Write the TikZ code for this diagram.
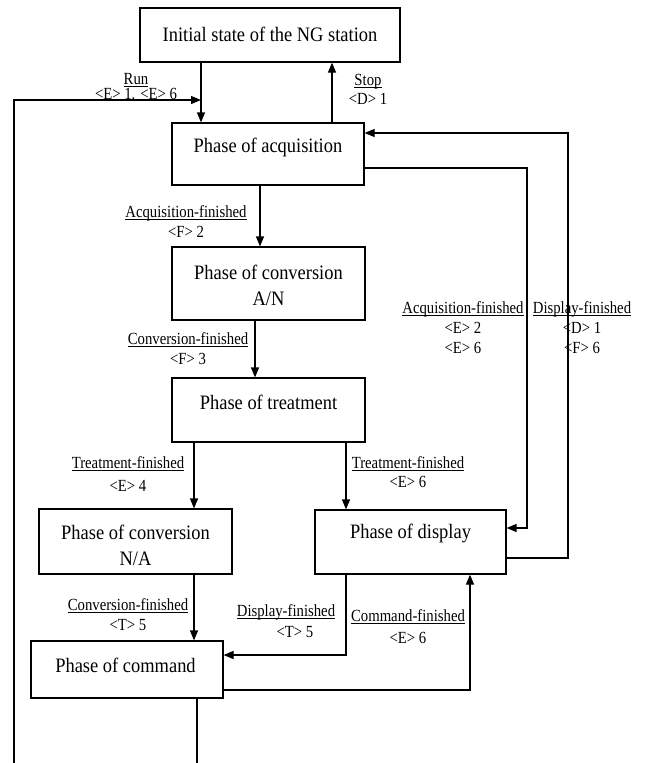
\documentclass[tikz,border=0pt]{standalone}
\usepackage{fontspec}
\setmainfont{Liberation Serif}
\newfontfamily\boxfont[FakeStretch=0.9]{Liberation Serif}
\newfontfamily\labfont[FakeStretch=0.867]{Liberation Serif}
\usetikzlibrary{arrows.meta,calc}
\newcommand\ulab[1]{\underline{\smash{#1}}}
\begin{document}
\begin{tikzpicture}[x=1pt,y=-1pt,
  box/.style={draw,line width=1.2pt,inner sep=0pt},
  boxtext/.style={font=\boxfont\fontsize{20.5}{26}\selectfont,align=center,inner sep=0pt},
  lab/.style={font=\labfont\fontsize{17}{20}\selectfont,align=center,inner sep=0pt},
  arr/.style={line width=1.2pt,-{Triangle[length=10pt,width=8pt]}},
  ln/.style={line width=1.2pt}]
\useasboundingbox (0,0) rectangle (645,763);
\clip (0,0) rectangle (645,763);

% boxes
\node[box,minimum width=260pt,minimum height=54pt] (init) at (270,35) {};
\node[boxtext] (initt) at (270,34) {Initial state of the NG station};
\node[box,minimum width=192pt,minimum height=62pt] (acq) at (268,154) {};
\node[boxtext] (acqt) at (268,147) {Phase of acquisition};
\node[box,minimum width=193pt,minimum height=73pt] (cAN) at (268.5,283.5) {};
\node[boxtext] (cANt) at (268.5,285) {Phase of conversion\\A/N};
\node[box,minimum width=193pt,minimum height=64pt] (treat) at (268.5,410) {};
\node[boxtext] (treatt) at (268.5,402) {Phase of treatment};
\node[box,minimum width=193pt,minimum height=65pt] (cNA) at (135.5,541.5) {};
\node[boxtext] (cNAt) at (135.5,545.5) {Phase of conversion\\N/A};
\node[box,minimum width=191pt,minimum height=64pt] (disp) at (410.5,542) {};
\node[boxtext] (dispt) at (410.5,533) {Phase of display};
\node[box,minimum width=192pt,minimum height=57pt] (cmd) at (127,669.5) {};
\node[boxtext] (cmdt) at (125.5,665) {Phase of command};

% helper coordinates
\coordinate (xA) at (201,0);
\coordinate (xS) at (332,0);
\coordinate (runL) at (14,100);
\coordinate (runE) at (201,100);
\coordinate (xCmd) at (197,0);
\coordinate (loopB) at (14,800);
\coordinate (yA1) at (0,168);
\coordinate (xIn) at (527,0);
\coordinate (yD1) at (0,528);
\coordinate (yD2) at (0,558);
\coordinate (xOut) at (568,0);
\coordinate (yA2) at (0,133);
\coordinate (x260) at (260,0);
\coordinate (x255) at (255,0);
\coordinate (x194) at (194,0);
\coordinate (xDd) at (346,0);
\coordinate (yC1) at (0,655);
\coordinate (yC2) at (0,690);
\coordinate (xCu) at (470,0);

% connectors
\draw[arr] (init.south -| xA) -- (acq.north -| xA);
\draw[arr] (cmd.south -| xCmd) -- (xCmd |- loopB) -- (loopB) -- (runL) -- (runE);
\draw[arr] (acq.north -| xS) -- (init.south -| xS);
\draw[arr] (acq.east |- yA1) -| (xIn |- yD1) -- (disp.east |- yD1);
\draw[arr] (disp.east |- yD2) -| (xOut |- yA2) -- (acq.east |- yA2);
\draw[arr] (acq.south -| x260) -- (cAN.north -| x260);
\draw[arr] (cAN.south -| x255) -- (treat.north -| x255);
\draw[arr] (treat.south -| x194) -- (cNA.north -| x194);
\draw[arr] (treat.south -| xDd) -- (disp.north -| xDd);
\draw[arr] (cNA.south -| x194) -- (cmd.north -| x194);
\draw[arr] (disp.south -| xDd) |- (cmd.east |- yC1);
\draw[arr] (cmd.east |- yC2) -| (disp.south -| xCu);

% labels
\node[lab] (lRun) at (136,92) {\ulab{Run}\\[-5pt]<E> 1. <E> 6};
\node[lab] (lStop) at (368,95.5) {\ulab{Stop}\\[-1pt]<D> 1};
\node[lab] (lAF) at (186,227.5) {\ulab{Acquisition-finished}\\<F> 2};
\node[lab] (lCF) at (188,355) {\ulab{Conversion-finished}\\<F> 3};
\node[lab] (lAF2) at (463,333.5) {\ulab{Acquisition-finished}\\<E> 2\\<E> 6};
\node[lab] (lDF) at (582,333.5) {\ulab{Display-finished}\\<D> 1\\<F> 6};
\node[lab] (lTF1) at (128,480) {\ulab{Treatment-finished}\\[3pt]<E> 4};
\node[lab] (lTF2) at (408,478) {\ulab{Treatment-finished}\\[-1pt]<E> 6};
\node[lab] (lCF2) at (128,620.5) {\ulab{Conversion-finished}\\<T> 5};
\node[lab] (lDF2) at (286,627) {\ulab{Display-finished}\\[1pt]\hspace*{18pt}<T> 5};
\node[lab] (lCmdF) at (408,632.5) {\ulab{Command-finished}\\[2pt]<E> 6};
\end{tikzpicture}
\end{document}
